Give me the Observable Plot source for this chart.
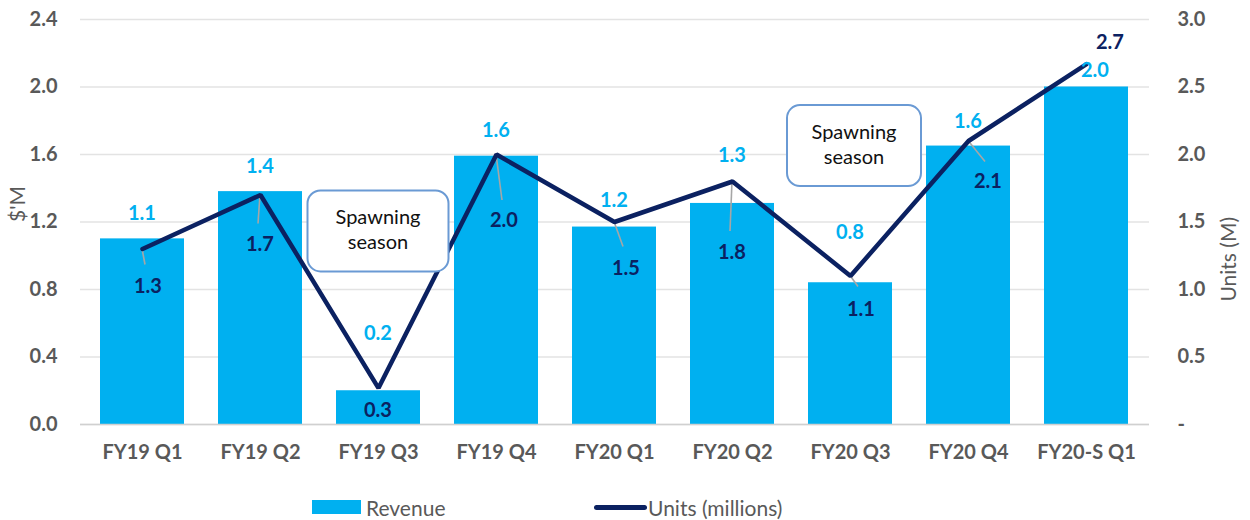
<!DOCTYPE html>
<html><head><meta charset="utf-8">
<script src="https://cdn.jsdelivr.net/npm/d3@7"></script>
<script src="https://cdn.jsdelivr.net/npm/@observablehq/plot@0.6"></script>
<style>
body{margin:0;background:#fff;font-family:Lato,"Open Sans",sans-serif;}
#wrap{position:relative;width:1250px;height:520px;overflow:hidden;}
.leg{position:absolute;top:495px;height:24px;display:flex;align-items:center;font-size:21px;color:#595959;}
</style></head>
<body><div id="wrap"><div id="chart"></div>
<div class="leg" style="left:312px"><span style="display:inline-block;width:49px;height:14px;background:#00B0F0;margin-right:5px"></span>Revenue</div>
<div class="leg" style="left:594px"><span style="display:inline-block;width:53px;height:5px;border-radius:3px;background:#0B2161;margin-right:1px"></span>Units (millions)</div>
</div>
<script>
const quarters = ["FY19 Q1","FY19 Q2","FY19 Q3","FY19 Q4","FY20 Q1","FY20 Q2","FY20 Q3","FY20 Q4","FY20-S Q1"];
const revenue = [1.10,1.38,0.20,1.59,1.17,1.31,0.84,1.65,2.00];
const revenueLabels = ["1.1","1.4","0.2","1.6","1.2","1.3","0.8","1.6","2.0"];
const units = [1.30,1.70,0.27,2.00,1.50,1.80,1.10,2.10,2.67];
const unitLabels = ["1.3","1.7","0.3","2.0","1.5","1.8","1.1","2.1","2.7"];
const leftTicks = [0,0.4,0.8,1.2,1.6,2.0,2.4];
const rightTicks = [0,0.5,1.0,1.5,2.0,2.5,3.0];
const annoQuarters = ["FY19 Q3","FY20 Q3"];
const annoLevels = [1.144,1.65];
const annoTexts = [["Spawning","season"],["Spawning","season"]];

// layout / styling (not data)
const BLUE = "#00B0F0", NAVY = "#0B2161", GRAY = "#595959";
const k = leftTicks[leftTicks.length-1] / rightTicks[rightTicks.length-1];
const rows = quarters.map((q,i)=>({q, rev:revenue[i], revLabel:revenueLabels[i], units:units[i], unitLabel:unitLabels[i], i}));
const revLabelOffsets = [[0,-25],[0,-25],[0,-57],[0,-26],[0,-27],[0,-48],[0,-50],[0,-25],[9,-17]];
const unitLabelOffsets = [[6,37],[0,49],[0,22],[8,66],[12,46],[0,71],[11,33],[20,40],[24,-22]];
const leaderOffsets = [[3,16],[-2,29],null,[6,46],[9,25],[-2,50],[8,11],[17,21],null];
const annoBoxW = [141,134], annoBoxH = 81, annoDx = [0,4];

function bandCenter(scales, v){
  const sx = scales.x;
  const bw = typeof sx.bandwidth === "function" ? sx.bandwidth() : ((scales.scales && scales.scales.x && scales.scales.x.bandwidth) || 0);
  return sx(v) + bw/2;
}

const leaderMark = (index, scales) => {
  const g = d3.create("svg:g");
  rows.forEach((r,i)=>{
    const lo = leaderOffsets[i]; if(!lo) return;
    const px = bandCenter(scales, r.q), py = scales.y(r.units*k);
    g.append("line").attr("x1",px).attr("y1",py).attr("x2",px+lo[0]).attr("y2",py+lo[1])
      .attr("stroke","#A6A6A6").attr("stroke-width",1.6);
  });
  return g.node();
};

const revLabelMark = (index, scales) => {
  const g = d3.create("svg:g");
  rows.forEach((r,i)=>{
    const px = bandCenter(scales, r.q), py = scales.y(r.rev);
    const [dx,dy] = revLabelOffsets[i];
    g.append("text").attr("x",px+dx).attr("y",py+dy).attr("dy","0.35em")
      .attr("text-anchor","middle").attr("font-size",20).attr("font-weight","bold")
      .attr("fill",BLUE).text(r.revLabel);
  });
  return g.node();
};

const unitLabelMark = (index, scales) => {
  const g = d3.create("svg:g");
  rows.forEach((r,i)=>{
    const px = bandCenter(scales, r.q), py = scales.y(r.units*k);
    const [dx,dy] = unitLabelOffsets[i];
    g.append("text").attr("x",px+dx).attr("y",py+dy).attr("dy","0.35em")
      .attr("text-anchor","middle").attr("font-size",20).attr("font-weight","bold")
      .attr("fill",NAVY).text(r.unitLabel);
  });
  return g.node();
};

const annoMark = (index, scales) => {
  const g = d3.create("svg:g");
  annoQuarters.forEach((q,i)=>{
    const cx = bandCenter(scales, q) + annoDx[i], cy = scales.y(annoLevels[i]);
    g.append("rect").attr("x",cx-annoBoxW[i]/2).attr("y",cy-annoBoxH/2)
      .attr("width",annoBoxW[i]).attr("height",annoBoxH).attr("rx",13).attr("ry",13)
      .attr("fill","#fff").attr("stroke","#6A9AD4").attr("stroke-width",2);
    annoTexts[i].forEach((t,j)=>{
      g.append("text").attr("x",cx).attr("y",cy + (j-0.5)*25 - 1).attr("dy","0.35em")
        .attr("text-anchor","middle").attr("font-size",20).attr("fill","#111").text(t);
    });
  });
  return g.node();
};

const chart = Plot.plot({
  width: 1250, height: 470,
  marginTop: 19, marginBottom: 46, marginLeft: 80, marginRight: 101,
  style: {fontFamily: "Lato, 'Open Sans', sans-serif", background: "#fff"},
  x: {type: "band", domain: quarters, paddingInner: 0.285, paddingOuter: 0.1425},
  y: {domain: [0, leftTicks[leftTicks.length-1]]},
  marks: [
    Plot.gridY(leftTicks, {stroke: "#E3E3E3", strokeOpacity: 1, strokeWidth: 1.3}),
    Plot.barY(rows, {x: "q", y: "rev", fill: BLUE}),
    Plot.ruleY([0], {stroke: "#D0D0D0", strokeWidth: 1.5}),
    Plot.axisX({tickSize: 0, tickPadding: 20, fontSize: 20, fontWeight: "bold", fill: GRAY, label: null}),
    Plot.axisY(leftTicks, {tickSize: 0, tickPadding: 23, fontSize: 20, fontWeight: "bold", fill: GRAY,
      tickFormat: d => d.toFixed(1), label: null}),
    Plot.axisY(rightTicks.map(u => u*k), {anchor: "right", tickSize: 0, tickPadding: 28, fontSize: 20, fontWeight: "bold", fill: GRAY,
      tickFormat: d => { const u = Math.round(d/k*10)/10; return u === 0 ? "-" : u.toFixed(1); }, label: null}),
    Plot.text(["$'M"], {text: d => d, frameAnchor: "left", rotate: -90, dx: -62, fontSize: 21, fill: GRAY}),
    Plot.text(["Units (M)"], {text: d => d, frameAnchor: "right", rotate: -90, dx: 80, dy: -5, fontSize: 21, fill: GRAY}),
    leaderMark,
    Plot.line(rows, {x: "q", y: d => d.units*k, stroke: NAVY, strokeWidth: 4.5, strokeLinejoin: "miter"}),
    annoMark,
    revLabelMark,
    unitLabelMark
  ]
});
document.getElementById("chart").appendChild(chart);
</script>
</body></html>
